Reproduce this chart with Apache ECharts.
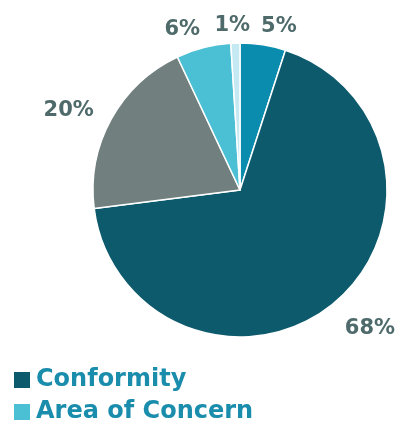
<!DOCTYPE html>
<html>
<head>
<meta charset="utf-8">
<script src="https://cdn.jsdelivr.net/npm/echarts@6/dist/echarts.min.js"></script>
<style>
  html, body { margin: 0; padding: 0; background: #ffffff; }
  #chart { width: 398px; height: 426px; }
</style>
</head>
<body>
<div id="chart"></div>
<script>
// Share of findings by category, clockwise from 12 o'clock
const categories = ['Observation', 'Conformity', 'Nonconformity', 'Area of Concern', 'Not Assessed'];
const shares = [5, 68, 20, 6, 1];
const sliceColors = ['#0a8cae', '#0d5a6d', '#717f7f', '#4bbfd3', '#c4e9f3'];
const legendItems = ['Conformity', 'Area of Concern'];

const CX = 240, CY = 190, R = 147;
const LABEL_FONT = 'bold 21px "DejaVu Sans"';
const LABEL_H = 18;

// Value labels sit at the outer end of each slice: the box corner (or edge)
// facing the pie is anchored on the slice's mid-angle a little beyond the rim.
const measureCtx = document.createElement('canvas').getContext('2d');
measureCtx.font = LABEL_FONT;
const total = shares.reduce((a, b) => a + b, 0);
let acc = 0;
const labelPos = shares.map(v => {
  const mid = (acc + v / 2) / total * 2 * Math.PI;
  acc += v;
  const w = measureCtx.measureText(v + '%').width;
  const s = Math.sin(mid), c = Math.cos(mid);
  const dist = R + 11 + 10 * Math.abs(s);
  const sx = Math.sign(s) * Math.min(1, Math.abs(s) / 0.2);
  return {
    x: CX + dist * s + sx * w / 2,
    y: CY - dist * c - c * LABEL_H / 2 + 3 + 3 * Math.abs(s)
  };
});

const chart = echarts.init(document.getElementById('chart'), null, { renderer: 'canvas' });

chart.setOption({
  animation: false,
  legend: {
    data: legendItems,
    orient: 'vertical',
    left: 12,
    top: 368,
    height: 80,
    padding: 0,
    icon: 'rect',
    itemWidth: 18,
    itemHeight: 18,
    itemGap: 8,
    textStyle: {
      color: '#1a8dac',
      fontFamily: 'DejaVu Sans',
      fontSize: 24,
      fontWeight: 'bold',
      padding: [0, 0, 0, 0]
    },
    selectedMode: false
  },
  series: [{
    type: 'pie',
    center: [CX, CY],
    radius: [0, R],
    startAngle: 90,
    clockwise: true,
    avoidLabelOverlap: false,
    itemStyle: { borderColor: '#ffffff', borderWidth: 1.5 },
    label: {
      show: true,
      position: 'outside',
      formatter: '{c}%',
      color: '#4f6a6b',
      fontFamily: 'DejaVu Sans',
      fontSize: 21,
      fontWeight: 'bold'
    },
    labelLine: { show: false },
    labelLayout: function (params) {
      const p = labelPos[params.dataIndex];
      return { x: p.x, y: p.y, align: 'center', verticalAlign: 'middle', hideOverlap: false };
    },
    emphasis: { disabled: true },
    data: categories.map((name, i) => ({
      name: name,
      value: shares[i],
      itemStyle: { color: sliceColors[i] }
    }))
  }]
});
</script>
</body>
</html>
